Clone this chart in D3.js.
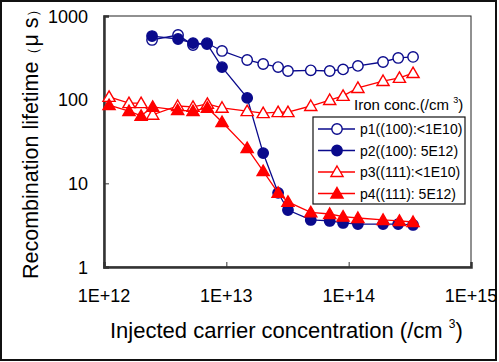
<!DOCTYPE html>
<html>
<head>
<meta charset="utf-8">
<script src="https://cdn.jsdelivr.net/npm/d3@7"></script>
<style>
  body { margin: 0; background: #fff; }
  text { font-family: "Liberation Sans", Arial, sans-serif; fill: #000; }
  .ticklab { font-family: "Liberation Sans Narrow", "Liberation Sans", Arial, sans-serif; }
</style>
</head>
<body>
<div id="chart"></div>
<script>
// values
const xBlue = [2.47e12, 4.03e12, 5.34e12, 6.95e12, 9.22e12, 1.48e13, 2.0e13, 2.65e13,
  3.19e13, 4.9e13, 7.0e13, 9.0e13, 1.19e14, 1.91e14, 2.54e14, 3.36e14];
const p1 = [517, 593, 450, 475, 382, 298, 267, 245, 220, 224, 220, 230, 253, 282, 315, 324];
const p2 = [576, 531, 475, 463, 245, 105, 23, 7.7, 4.8, 3.65, 3.55, 3.36, 3.26, 3.26, 3.26, 3.18];

const xRed = [1.1e12, 1.6e12, 2.01e12, 2.5e12, 4.0e12, 5.34e12, 7.0e12, 9.22e12, 1.48e13,
  2.0e13, 2.65e13, 3.19e13, 4.9e13, 7.0e13, 9.0e13, 1.19e14, 1.91e14, 2.6e14, 3.36e14];
const p3 = [108, 91, 91, 66, 84, 82, 89, 80, 73, 69, 71, 71, 84, 99, 111, 138, 167, 182, 208];
const p4 = [86, 73, 64, 82, 75, 73, 80, 54, 26.4, 14.0, 7.7, 6.0, 4.5, 4.3, 4.0, 3.85, 3.65, 3.55, 3.45];

const xTicks = [1e12, 1e13, 1e14, 1e15];
const xTickLabels = ["1E+12", "1E+13", "1E+14", "1E+15"];
const yTicks = [1, 10, 100, 1000];
const seriesNames = ["p1((100):<1E10)", "p2((100): 5E12)", "p3((111):<1E10)", "p4((111): 5E12)"];

const BLUE = "#0a0a8c";
const RED = "#ff0000";

let series = [
  { name: seriesNames[0], xs: xBlue, ys: p1, color: BLUE, shape: "circle", filled: false },
  { name: seriesNames[1], xs: xBlue, ys: p2, color: BLUE, shape: "circle", filled: true },
  { name: seriesNames[2], xs: xRed, ys: p3, color: RED, shape: "tri", filled: false },
  { name: seriesNames[3], xs: xRed, ys: p4, color: RED, shape: "tri", filled: true },
];

let width = 499;
let height = 362;
let plot = { left: 104, top: 16, right: 471, bottom: 267 };

let svg = d3.select("#chart").append("svg")
  .attr("width", width)
  .attr("height", height);

// outer frame
svg.append("rect")
  .attr("x", 1).attr("y", 1)
  .attr("width", 495).attr("height", 359)
  .attr("fill", "white").attr("stroke", "#111").attr("stroke-width", 2);

let x = d3.scaleLog().domain([1e12, 1e15]).range([plot.left, plot.right]);
let y = d3.scaleLog().domain([1, 1000]).range([plot.bottom, plot.top]);

// plot area border (top/right thin)
svg.append("rect")
  .attr("x", plot.left).attr("y", plot.top)
  .attr("width", plot.right - plot.left).attr("height", plot.bottom - plot.top)
  .attr("fill", "none").attr("stroke", "#222").attr("stroke-width", 1);

// axes with inward ticks
let xAxis = svg.append("g")
  .attr("transform", `translate(0,${plot.bottom})`)
  .call(d3.axisBottom(x).tickValues(xTicks).tickSize(-5).tickFormat(""));
let yAxis = svg.append("g")
  .attr("transform", `translate(${plot.left},0)`)
  .call(d3.axisLeft(y).tickValues(yTicks).tickSize(-5).tickFormat(""));
[xAxis, yAxis].forEach((a) => {
  a.select(".domain").attr("stroke", "#333").attr("stroke-width", 2.5);
  a.selectAll(".tick line").attr("stroke", "#333").attr("stroke-width", 1);
});

// tick labels
svg.selectAll(".xlab")
  .data(xTicks)
  .join("text")
  .attr("class", "xlab ticklab")
  .attr("x", (d) => x(d))
  .attr("y", 302)
  .attr("text-anchor", "middle")
  .attr("font-size", 18)
  .text((d, i) => xTickLabels[i]);

svg.selectAll(".ylab")
  .data(yTicks)
  .join("text")
  .attr("class", "ylab ticklab")
  .attr("x", 88)
  .attr("y", (d) => y(d) + 6.5)
  .attr("text-anchor", "end")
  .attr("font-size", 18)
  .text((d) => d);

// axis titles
let xt = svg.append("text")
  .attr("x", 110).attr("y", 338)
  .attr("font-size", 22)
  .text("Injected carrier concentration (/cm ");
xt.append("tspan").attr("dy", -10).attr("font-size", 12).text("3");
xt.append("tspan").attr("dy", 10).text(")");

let yt = svg.append("text")
  .attr("transform", "translate(38,279) rotate(-90)")
  .attr("font-size", 21.5)
  .text("Recombination lifetime");
yt.append("tspan").attr("font-size", 15).text("（");
yt.append("tspan").text("μ s");
yt.append("tspan").attr("font-size", 15).text("）");

// series
let line = d3.line().x((d) => x(d[0])).y((d) => y(d[1]));
let triPath = d3.symbol().type(d3.symbolTriangle).size(64)();

function drawMarker(g, s) {
  if (s.shape === "circle") {
    g.append("circle").attr("r", 5.2)
      .attr("fill", s.filled ? s.color : "white")
      .attr("stroke", s.color).attr("stroke-width", 1.4);
  } else {
    g.append("path").attr("d", triPath)
      .attr("transform", "translate(0,1)")
      .attr("fill", s.filled ? s.color : "white")
      .attr("stroke", s.color).attr("stroke-width", 1.4);
  }
}

series.forEach((s) => {
  let pts = s.xs.map((v, i) => [v, s.ys[i]]);
  svg.append("path")
    .datum(pts)
    .attr("d", line)
    .attr("fill", "none")
    .attr("stroke", s.color)
    .attr("stroke-width", 1.3);
  svg.append("g").selectAll("g")
    .data(pts)
    .join("g")
    .attr("transform", (d) => `translate(${x(d[0])},${y(d[1])})`)
    .each(function () { drawMarker(d3.select(this), s); });
});

// legend
let lt = svg.append("text")
  .attr("x", 354).attr("y", 110)
  .attr("font-size", 15)
  .text("Iron conc.(/cm ");
lt.append("tspan").attr("dy", -7).attr("font-size", 9).text("3");
lt.append("tspan").attr("dy", 7).text(")");

let legend = svg.append("g");
legend.append("rect")
  .attr("x", 313).attr("y", 117)
  .attr("width", 152).attr("height", 87)
  .attr("fill", "white").attr("stroke", "#111").attr("stroke-width", 1.2);

series.forEach((s, i) => {
  let ly = 129 + i * 21.5;
  legend.append("line")
    .attr("x1", 318).attr("x2", 355)
    .attr("y1", ly).attr("y2", ly)
    .attr("stroke", s.color).attr("stroke-width", 1.3);
  let m = legend.append("g").attr("transform", `translate(337,${ly})`);
  drawMarker(m, s);
  legend.append("text")
    .attr("x", 360).attr("y", ly + 5)
    .attr("font-size", 14)
    .text(s.name);
});
</script>
</body>
</html>
